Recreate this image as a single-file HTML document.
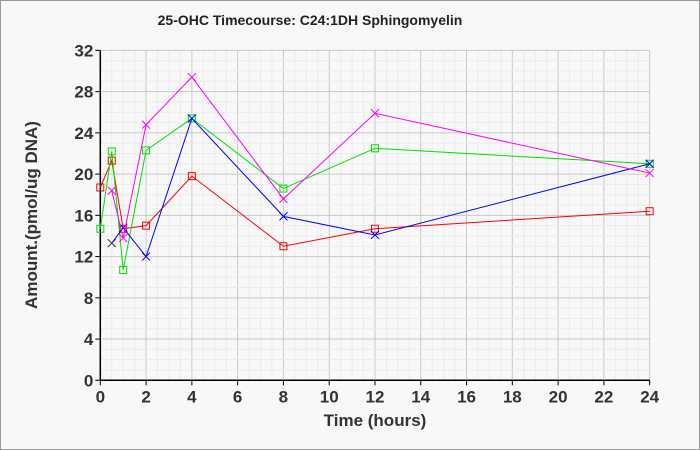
<!DOCTYPE html>
<html><head><meta charset="utf-8"><style>
html,body{margin:0;padding:0;background:#f8f8f8;}
svg{display:block;font-family:"Liberation Sans",Arial,sans-serif;}
</style></head><body>
<svg id="s" width="700" height="450" xmlns="http://www.w3.org/2000/svg">
<rect x="0.5" y="0.5" width="699" height="449" fill="#f8f8f8" stroke="#999"/>
<text x="310" y="25" font-size="14" font-weight="bold" text-anchor="middle" fill="#222">25-OHC Timecourse: C24:1DH Sphingomyelin</text>
<g id="g"></g>
<text x="375" y="426" font-size="17" font-weight="bold" text-anchor="middle" fill="#333">Time (hours)</text>
<text transform="translate(37,215) rotate(-90)" font-size="17" font-weight="bold" text-anchor="middle" fill="#333">Amount.(pmol/ug DNA)</text>
</svg>
<script>
var g=document.getElementById('g'),h='';
var X0=100.3,XS=22.89,Y0=380.3,YS=10.31;
function X(t){return X0+t*XS}function Y(v){return Y0-v*YS}
for(var t=0;t<=24;t+=0.5){var x=X(t);h+='<line x1="'+x+'" y1="'+Y(32)+'" x2="'+x+'" y2="'+Y0+'" stroke="'+(t%2==0?'#c8c8c8':'#ebebeb')+'"/>';}
for(var v=0;v<=32;v++){var y=Y(v);h+='<line x1="'+X0+'" y1="'+y+'" x2="'+X(24)+'" y2="'+y+'" stroke="'+(v%4==0?'#c8c8c8':'#ebebeb')+'"/>';}
for(var t=0;t<=24;t+=2){h+='<line x1="'+X(t)+'" y1="'+Y0+'" x2="'+X(t)+'" y2="'+(Y0+5)+'" stroke="#000"/><text x="'+X(t)+'" y="'+(Y0+22)+'" font-size="17" font-weight="bold" text-anchor="middle" fill="#333">'+t+'</text>';}
for(var v=0;v<=32;v+=4){h+='<line x1="'+(X0-5)+'" y1="'+Y(v)+'" x2="'+X0+'" y2="'+Y(v)+'" stroke="#000"/><text x="'+(X0-7)+'" y="'+(Y(v)+6)+'" font-size="17" font-weight="bold" text-anchor="end" fill="#333">'+v+'</text>';}
h+='<line x1="'+X0+'" y1="'+Y(32)+'" x2="'+X0+'" y2="'+Y0+'" stroke="#000" stroke-width="1.5"/><line x1="'+X0+'" y1="'+Y0+'" x2="'+X(24)+'" y2="'+Y0+'" stroke="#000" stroke-width="1.5"/>';
var S=[
['#ff0000','sq',[[0,18.7],[0.5,21.3],[1,14.7],[2,15.0],[4,19.8],[8,13.0],[12,14.7],[24,16.4]]],
['#00e000','sq',[[0,14.7],[0.5,22.2],[1,10.7],[2,22.3],[4,25.4],[8,18.6],[12,22.5],[24,21.0]]],
['#0000ff','x',[[0.5,13.3],[1,14.8],[2,12.0],[4,25.4],[8,15.9],[12,14.1],[24,21.0]]],
['#ff00ff','x',[[0.5,18.4],[1,13.8],[2,24.8],[4,29.4],[8,17.6],[12,25.9],[24,20.1]]]];
S.forEach(function(s){var p=s[2].map(function(d){return X(d[0])+','+Y(d[1])}).join(' ');
h+='<polyline points="'+p+'" fill="none" stroke="'+s[0]+'" stroke-width="1"/>';
s[2].forEach(function(d){var x=X(d[0]),y=Y(d[1]);
if(s[1]=='sq')h+='<rect x="'+(x-3.5)+'" y="'+(y-3.5)+'" width="7" height="7" fill="none" stroke="'+s[0]+'"/>';
else h+='<path d="M'+(x-4)+' '+(y-4)+'L'+(x+4)+' '+(y+4)+'M'+(x-4)+' '+(y+4)+'L'+(x+4)+' '+(y-4)+'" stroke="'+(d[0]==0.5&&s[0]=='#0000ff'?'#333':s[0])+'"/>';});});
g.innerHTML=h;
</script>
</body></html>
